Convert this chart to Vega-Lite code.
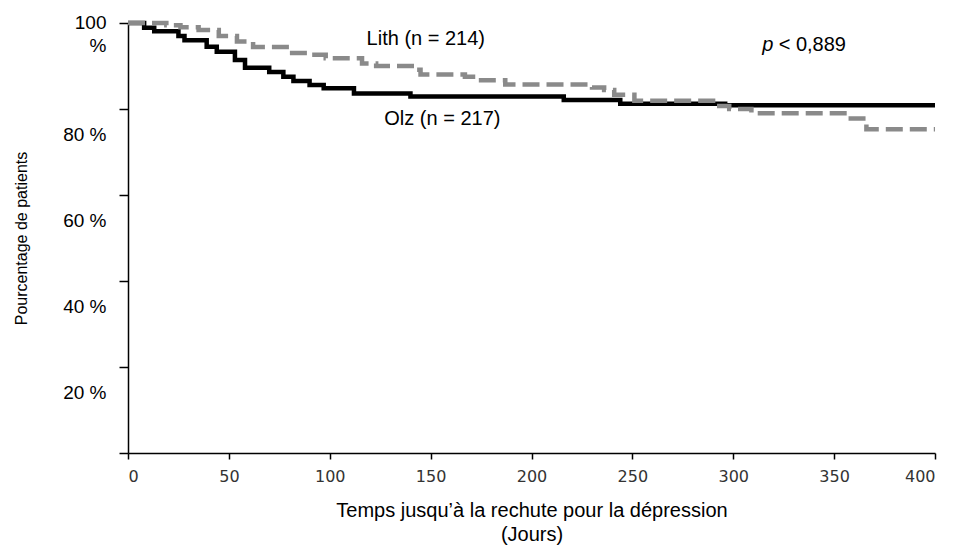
{
  "$schema": "https://vega.github.io/schema/vega-lite/v6.json",
  "width": 807,
  "height": 430,
  "autosize": {"type": "none"},
  "padding": {"left": 128, "top": 23, "right": 19, "bottom": 93},
  "background": "white",
  "config": {
    "view": {"stroke": null},
    "font": "Liberation Sans",
    "axis": {"grid": false, "domainColor": "#000", "tickColor": "#000", "domainWidth": 1.5, "tickWidth": 1.5, "labelColor": "#000", "titleColor": "#000", "titleFontWeight": "normal"}
  },
  "datasets": {
    "olz": [
      {"jours": 0, "pct": 100}, {"jours": 8, "pct": 98.9}, {"jours": 13, "pct": 98.1}, {"jours": 25, "pct": 97.0},
      {"jours": 28, "pct": 96.0}, {"jours": 39, "pct": 94.5}, {"jours": 44, "pct": 93.3}, {"jours": 53, "pct": 91.4},
      {"jours": 58, "pct": 89.6}, {"jours": 70, "pct": 88.6}, {"jours": 77, "pct": 87.5}, {"jours": 82, "pct": 86.5},
      {"jours": 90, "pct": 85.6}, {"jours": 97, "pct": 84.8}, {"jours": 112, "pct": 83.6}, {"jours": 140, "pct": 82.9},
      {"jours": 216, "pct": 82.1}, {"jours": 244, "pct": 81.2}, {"jours": 296, "pct": 80.9}, {"jours": 400, "pct": 80.9}
    ],
    "lith": [
      {"jours": 0, "pct": 100}, {"jours": 19, "pct": 99.5}, {"jours": 26, "pct": 99.0}, {"jours": 35, "pct": 98.4},
      {"jours": 45, "pct": 97.0}, {"jours": 54, "pct": 95.7}, {"jours": 62, "pct": 94.4}, {"jours": 80, "pct": 93.0},
      {"jours": 89, "pct": 92.6}, {"jours": 98, "pct": 91.8}, {"jours": 116, "pct": 90.6}, {"jours": 123, "pct": 90.0},
      {"jours": 142, "pct": 89.1}, {"jours": 145, "pct": 88.0}, {"jours": 167, "pct": 87.5}, {"jours": 175, "pct": 86.7},
      {"jours": 187, "pct": 85.7}, {"jours": 230, "pct": 85.0}, {"jours": 236, "pct": 84.4}, {"jours": 241, "pct": 83.3},
      {"jours": 251, "pct": 81.9}, {"jours": 290, "pct": 80.7}, {"jours": 298, "pct": 80.0}, {"jours": 309, "pct": 79.0},
      {"jours": 357, "pct": 77.8}, {"jours": 366, "pct": 75.3}, {"jours": 400, "pct": 75.3}
    ],
    "labels": [
      {"jours": 147.6, "pct": 96.2, "texte": "Lith (n = 214)"},
      {"jours": 155.8, "pct": 77.7, "texte": "Olz (n = 217)"}
    ],
    "pval": [
      {"jours": 314.4, "pct": 94.8, "texte": "p"}
    ],
    "pval2": [
      {"jours": 322.5, "pct": 94.8, "texte": "< 0,889"}
    ]
  },
  "encoding": {
    "x": {
      "field": "jours", "type": "quantitative",
      "scale": {"domain": [0, 400], "nice": false, "zero": false},
      "axis": {
        "values": [0, 50, 100, 150, 200, 250, 300, 350, 400],
        "tickSize": 6, "labelPadding": 9,
        "labelFont": "DejaVu Sans", "labelFontSize": 16, "labelColor": "#333",
        "title": ["Temps jusqu’à la rechute pour la dépression", "(Jours)"],
        "titleFont": "Liberation Sans", "titleFontSize": 20, "titleLineHeight": 24, "titlePadding": 16
      }
    },
    "y": {
      "field": "pct", "type": "quantitative",
      "scale": {"domain": [0, 100], "nice": false},
      "axis": {
        "values": [0, 20, 40, 60, 80, 100],
        "tickSize": 9, "labelPadding": 13,
        "labelFont": "Liberation Sans", "labelFontSize": 19, "labelLineHeight": 23,
        "labelBaseline": "middle",
        "labelExpr": "datum.value == 100 ? ['100', '%'] : (datum.value == 0 ? '' : datum.value + ' %')",
        "labelOffset": {"condition": {"test": "datum.value == 100", "value": -0.5}, "value": 25},
        "title": "Pourcentage de patients",
        "titleFont": "Liberation Sans", "titleFontSize": 16, "titlePadding": 33
      }
    }
  },
  "layer": [
    {
      "data": {"name": "olz"},
      "mark": {"type": "line", "interpolate": "step-after", "color": "#000", "strokeWidth": 4.5, "strokeCap": "butt"}
    },
    {
      "data": {"name": "lith"},
      "mark": {"type": "line", "interpolate": "step-after", "color": "#8a8a8a", "strokeWidth": 4.5, "strokeDash": [17, 7], "strokeCap": "butt"}
    },
    {
      "data": {"name": "labels"},
      "mark": {"type": "text", "font": "Liberation Sans", "fontSize": 20, "color": "#000", "align": "center", "baseline": "middle"},
      "encoding": {"text": {"field": "texte"}}
    },
    {
      "data": {"name": "pval"},
      "mark": {"type": "text", "font": "Liberation Sans", "fontSize": 20, "fontStyle": "italic", "color": "#000", "align": "left", "baseline": "middle"},
      "encoding": {"text": {"field": "texte"}}
    },
    {
      "data": {"name": "pval2"},
      "mark": {"type": "text", "font": "Liberation Sans", "fontSize": 20, "color": "#000", "align": "left", "baseline": "middle"},
      "encoding": {"text": {"field": "texte"}}
    }
  ]
}
